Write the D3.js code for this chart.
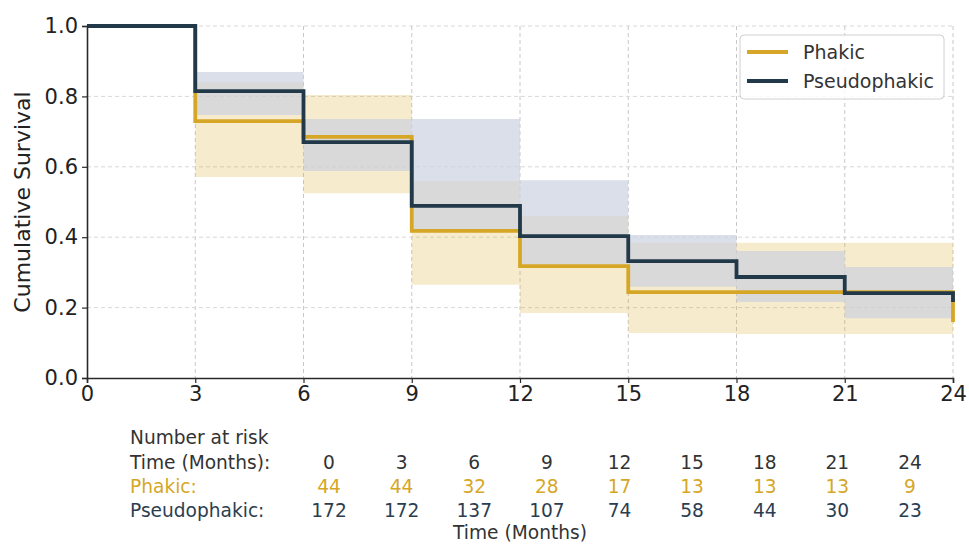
<!DOCTYPE html>
<html>
<head>
<meta charset="utf-8">
<script src="https://cdn.jsdelivr.net/npm/d3@7"></script>
<style>
  html, body { margin: 0; padding: 0; background: #fff; }
  svg { display: block; font-family: "DejaVu Sans", sans-serif; }
</style>
</head>
<body>
<svg id="chart" width="969" height="544"></svg>
<script>
// Kaplan–Meier step estimates (months) with 95% confidence limits
const stepTimes = [0, 3, 6, 9, 12, 15, 18, 21, 24];
const phakicSurv   = [1.0, 0.730, 0.685, 0.418, 0.318, 0.244, 0.244, 0.244, 0.159];
const phakicLower  = [1.0, 0.571, 0.525, 0.265, 0.185, 0.128, 0.125, 0.125, 0.125];
const phakicUpper  = [1.0, 0.840, 0.804, 0.560, 0.460, 0.384, 0.384, 0.384, 0.384];
const pseudoSurv   = [1.0, 0.815, 0.670, 0.489, 0.403, 0.332, 0.287, 0.241, 0.216];
const pseudoLower  = [1.0, 0.747, 0.588, 0.420, 0.322, 0.259, 0.216, 0.170, 0.170];
const pseudoUpper  = [1.0, 0.869, 0.736, 0.736, 0.562, 0.406, 0.361, 0.315, 0.315];

// Number-at-risk table
const riskTimes  = [0, 3, 6, 9, 12, 15, 18, 21, 24];
const phakicRisk = [44, 44, 32, 28, 17, 13, 13, 13, 9];
const pseudoRisk = [172, 172, 137, 107, 74, 58, 44, 30, 23];

const xTicks = [0, 3, 6, 9, 12, 15, 18, 21, 24];
const yTicks = [0.0, 0.2, 0.4, 0.6, 0.8, 1.0];

const colors = { phakic: "#D6A727", pseudo: "#22394A" };

const svg = d3.select("#chart");
const x = d3.scaleLinear().domain([0, 24]).range([87, 953]);
const y = d3.scaleLinear().domain([0, 1]).range([378, 26]);

// grid
const grid = svg.append("g");
grid.selectAll("line.vx").data(xTicks.filter(d => d > 0)).join("line")
  .attr("x1", d => x(d)).attr("x2", d => x(d))
  .attr("y1", y(1)).attr("y2", y(0))
  .attr("stroke", "#c8c8c8").attr("stroke-width", 1).attr("stroke-dasharray", "4,3");
grid.selectAll("line.hy").data(yTicks.filter(d => d > 0)).join("line")
  .attr("x1", x(0)).attr("x2", x(24))
  .attr("y1", d => y(d)).attr("y2", d => y(d))
  .attr("stroke", "#d8d8d8").attr("stroke-width", 1).attr("stroke-dasharray", "4,3");

// build series records
function series(surv, lo, hi) {
  return stepTimes.map((t, i) => ({ t, s: surv[i], lo: lo[i], hi: hi[i] }));
}
const phakic = series(phakicSurv, phakicLower, phakicUpper);
const pseudo = series(pseudoSurv, pseudoLower, pseudoUpper);

// confidence bands (step-after) over the intervals 3–24
const band = d3.area().curve(d3.curveStepAfter)
  .x(d => x(d.t)).y0(d => y(d.lo)).y1(d => y(d.hi));
function bandPoints(arr) {
  const pts = arr.filter(d => d.t >= 3 && d.t < 24);
  const last = pts[pts.length - 1];
  pts.push({ t: 24, lo: last.lo, hi: last.hi });
  return pts;
}

svg.append("path").datum(bandPoints(phakic))
  .attr("d", band).attr("fill", "rgb(218,165,32)").attr("fill-opacity", 0.22);
svg.append("path").datum(bandPoints(pseudo))
  .attr("d", band).attr("fill", "rgb(204,210,224)").attr("fill-opacity", 0.7);

// survival step lines; the last drop is a vertical segment at t = 24
function stepPoints(arr) {
  const pts = arr.slice(0, arr.length - 1);
  pts.push({ t: 24, s: arr[arr.length - 2].s });
  pts.push({ t: 24, s: arr[arr.length - 1].s });
  return pts;
}
const line = d3.line().curve(d3.curveStepAfter).x(d => x(d.t)).y(d => y(d.s));
svg.append("path").datum(stepPoints(phakic))
  .attr("d", line).attr("fill", "none").attr("stroke", colors.phakic).attr("stroke-width", 3.8);
svg.append("path").datum(stepPoints(pseudo))
  .attr("d", line).attr("fill", "none").attr("stroke", colors.pseudo).attr("stroke-width", 3.8);

// axes
const xAxis = svg.append("g").attr("transform", `translate(0,${y(0)})`)
  .call(d3.axisBottom(x).tickValues(xTicks).tickSize(5).tickPadding(3).tickFormat(d3.format("d")));
const yAxis = svg.append("g").attr("transform", `translate(${x(0)},0)`)
  .call(d3.axisLeft(y).tickValues(yTicks).tickSize(5).tickPadding(4).tickFormat(d3.format(".1f")));
[xAxis, yAxis].forEach(g => {
  g.select(".domain").attr("stroke", "#2a2a2a").attr("stroke-width", 1.6);
  g.selectAll(".tick line").attr("stroke", "#2a2a2a").attr("stroke-width", 1.2);
  g.selectAll(".tick text").attr("fill", "#222").attr("font-size", 21)
    .attr("font-family", "DejaVu Sans, sans-serif");
});

svg.append("text")
  .attr("transform", `translate(28,${y(0.5)}) rotate(-90)`)
  .attr("text-anchor", "middle").attr("dy", "0.1em")
  .attr("font-size", 22).attr("fill", "#222")
  .text("Cumulative Survival");

// legend
const lg = svg.append("g").attr("transform", "translate(740,35)");
lg.append("rect").attr("width", 204).attr("height", 64).attr("rx", 4)
  .attr("fill", "#fff").attr("fill-opacity", 0.85).attr("stroke", "#d0d0d0").attr("stroke-width", 1);
[["Phakic", colors.phakic], ["Pseudophakic", colors.pseudo]].forEach(([name, c], i) => {
  const yy = 17 + i * 29;
  lg.append("line").attr("x1", 7).attr("x2", 48).attr("y1", yy).attr("y2", yy)
    .attr("stroke", c).attr("stroke-width", 3.8);
  lg.append("text").attr("x", 63).attr("y", yy).attr("dy", "0.36em")
    .attr("font-size", 19).attr("fill", "#333").text(name);
});

// number-at-risk table
const colX = d3.scalePoint().domain(riskTimes).range([329, 910]);
const tbl = svg.append("g").attr("font-size", 18.6);
tbl.append("text").attr("x", 130).attr("y", 437).attr("dy", "0.35em").attr("fill", "#333").text("Number at risk");
const rows = [
  { label: "Time (Months):", vals: riskTimes, color: "#333", yy: 462 },
  { label: "Phakic:", vals: phakicRisk, color: colors.phakic, yy: 486.5 },
  { label: "Pseudophakic:", vals: pseudoRisk, color: "#2B3E50", yy: 510 }
];
rows.forEach(r => {
  tbl.append("text").attr("x", 130).attr("y", r.yy).attr("dy", "0.35em").attr("fill", r.color).text(r.label);
  tbl.selectAll(null).data(r.vals).join("text")
    .attr("x", (d, i) => colX(riskTimes[i])).attr("y", r.yy).attr("dy", "0.35em")
    .attr("text-anchor", "middle").attr("fill", r.color).text(d => d);
});
tbl.append("text").attr("x", 520).attr("y", 532).attr("dy", "0.35em")
  .attr("text-anchor", "middle").attr("fill", "#333").text("Time (Months)");
</script>
</body>
</html>
